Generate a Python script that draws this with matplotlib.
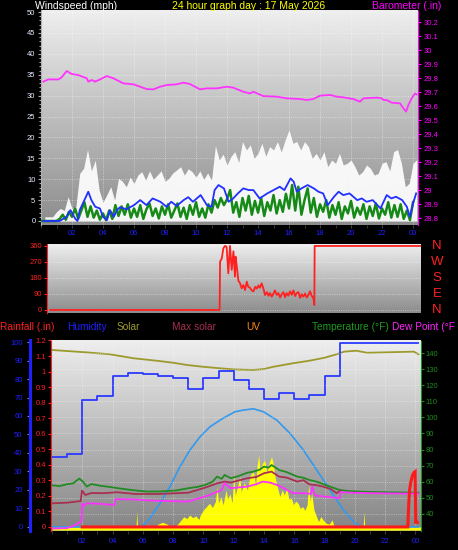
import numpy as np
import matplotlib
matplotlib.use('Agg')
import matplotlib.pyplot as plt
from matplotlib.ticker import MultipleLocator, FuncFormatter

plt.rcParams['font.family'] = ['Liberation Sans', 'DejaVu Sans']

# ---- wind / barometer (hours since midnight) ----
gust_h = np.arange(0.25, 24.26, 0.25)
gust = [1.0, 1.0, 1.0, 2.2, 3.0, 2.5, 5.8, 3.0, 3.4, 11.4, 12.6, 17.1,
        12.0, 14.5, 7.4, 4.5, 6.3, 8.2, 5.0, 10.2, 9.5, 8.2, 10.5, 9.0,
        11.0, 11.8, 9.8, 12.0, 10.0, 11.0, 12.0, 9.5, 10.2, 11.5, 12.2, 13.0,
        11.0, 12.5, 11.8, 10.5, 12.0, 10.0, 11.5, 9.8, 18.0, 14.6, 16.0, 13.4,
        15.4, 16.6, 14.0, 19.0, 17.0, 18.2, 15.0, 16.2, 18.6, 15.5, 17.8, 17.0,
        19.0, 16.5, 19.4, 21.8, 18.6, 19.0, 17.0, 19.0, 17.8, 15.0, 16.2, 14.6,
        16.6, 13.0, 14.6, 13.8, 16.2, 13.4, 13.8, 14.6, 13.0, 11.0, 11.8, 13.4,
        12.6, 11.0, 11.4, 13.8, 14.2, 12.0, 16.6, 17.1, 13.8, 8.2, 9.0, 13.8,
        14.7]

speed_h = np.arange(0, 24.01, 0.2)
speed = [0, 0, 0, 0, 0, 0,
         0.5, 1.5, 0.3, 2.2, 1.0, 3.0, 0.5, 2.5, 4.5, 1.0,
         3.5, 0.8, 2.5, 0.3, 1.8, 0.2, 2.5, 0.5, 3.8, 1.2,
         3.5, 1.5, 4.0, 0.8, 3.0, 1.0, 3.8, 0.5, 2.8, 4.2,
         1.2, 3.0, 0.6, 3.5, 1.5, 4.0, 0.8, 2.5, 4.2, 1.0,
         3.2, 0.5, 3.8, 1.5, 4.5, 1.0, 3.0, 0.8, 4.0, 2.0,
         5.0, 3.2, 5.5, 3.8, 5.2, 7.4, 2.0, 4.5, 1.0, 5.5,
         2.5, 6.0, 1.5, 4.8, 2.0, 5.5, 1.2, 4.5, 2.5, 6.2,
         1.8, 5.0, 2.2, 6.5, 3.0, 8.6, 2.5, 8.2, 1.5, 5.0,
         7.8, 2.0, 5.5, 1.0, 4.0, 2.2, 5.0, 0.8, 3.8, 1.5,
         4.5, 0.5, 3.5, 1.8, 4.8, 0.8, 3.2, 1.5, 4.0, 0.5,
         3.5, 1.2, 4.2, 0.6, 3.0, 1.5, 4.5, 0.8, 3.8, 1.0,
         4.0, 0.5, 2.5, 0.2, 4.5]

avg_h = [0.15, 1.2, 1.65, 1.9, 2.2, 2.35, 2.5, 2.85, 3.05, 3.25,
         3.5, 3.8, 4.0, 4.25, 4.45, 4.7, 4.9, 5.1, 5.5, 6.0,
         6.4, 6.8, 7.2, 7.7, 8.1, 8.4, 8.75, 9.2, 9.5, 9.8,
         10.3, 10.7, 11.0, 11.2, 11.45, 11.8, 12.1, 12.4, 12.7, 13.05,
         13.4, 13.7, 14.1, 14.6, 15.0, 15.4, 15.7, 16.1, 16.3, 16.5,
         16.8, 17.2, 17.6, 17.9, 18.2, 18.5, 18.9, 19.2, 19.5, 19.9,
         20.4, 20.7, 21.0, 21.4, 21.9, 22.3, 22.6, 22.9, 23.3, 23.6,
         23.8, 24.0, 24.2]
avg = [0, 0, 1.0, 2.6, 0.6, 0, 2.6, 5.4, 7.0, 5.0,
       3.4, 3.0, 1.0, 0.2, 2.6, 1.0, 2.6, 3.3, 2.8, 3.8,
       5.0, 3.8, 5.4, 4.6, 3.4, 4.6, 3.6, 5.0, 5.7, 4.6,
       6.2, 3.8, 3.4, 7.4, 8.6, 7.8, 4.6, 5.4, 6.6, 7.8,
       7.4, 7.4, 5.4, 6.6, 7.4, 8.2, 7.4, 10.2, 9.4, 7.0,
       7.8, 8.6, 7.8, 7.0, 6.6, 3.8, 5.8, 7.0, 6.2, 6.6,
       5.0, 5.4, 4.6, 5.0, 3.0, 6.2, 5.4, 5.8, 5.0, 3.4,
       1.0, 4.2, 6.6]

baro_h = [0.15, 0.47, 1.12, 1.33, 1.66, 1.98, 2.41, 2.95, 3.05, 3.27,
          3.48, 3.81, 4.24, 4.67, 5.31, 5.96, 6.82, 7.25, 7.68, 8.11,
          8.75, 9.18, 9.61, 10.26, 10.69, 11.33, 11.98, 12.41, 13.05, 13.48,
          13.7, 14.34, 15.2, 15.85, 16.71, 17.14, 17.57, 18.0, 18.65, 19.08,
          19.5, 20.15, 20.58, 20.8, 21.66, 21.98, 22.09, 22.3, 22.62, 23.16,
          23.38, 23.55, 23.7, 23.91, 24.13, 24.24]
baro = [29.774, 29.790, 29.790, 29.805, 29.85, 29.829, 29.821, 29.798, 29.774, 29.786,
        29.774, 29.790, 29.814, 29.798, 29.762, 29.755, 29.721, 29.719, 29.738, 29.75,
        29.755, 29.767, 29.757, 29.719, 29.726, 29.726, 29.738, 29.731, 29.702, 29.69,
        29.702, 29.671, 29.667, 29.655, 29.65, 29.643, 29.65, 29.674, 29.679, 29.667,
        29.662, 29.65, 29.631, 29.655, 29.66, 29.655, 29.643, 29.643, 29.624, 29.619,
        29.583, 29.56, 29.607, 29.655, 29.69, 29.683]

# ---- wind direction ----
dir_h = [0.26, 11.2, 11.23, 11.34, 11.44, 11.55, 11.65, 11.76, 11.87, 11.98,
         12.09, 12.19, 12.23, 12.3, 12.41, 12.52, 12.62, 12.73, 12.84, 12.95,
         13.05, 13.16, 13.27, 13.38, 13.5, 13.6, 13.7, 13.8, 13.91, 14.02,
         14.13, 14.25, 14.35, 14.45, 14.56, 14.66, 14.77, 14.88, 14.99, 15.1,
         15.2, 15.31, 15.42, 15.52, 15.63, 15.74, 15.85, 15.96, 16.07, 16.17,
         16.28, 16.39, 16.49, 16.6, 16.71, 16.82, 16.93, 17.03, 17.14, 17.25,
         17.31, 17.33, 24.2]
wdir = [0, 0, 272, 290, 347, 360, 355, 206, 360, 225,
        330, 187, 300, 250, 165, 150, 122, 140, 112, 159,
        130, 125, 110, 105, 130, 120, 138, 125, 150, 122,
        84, 100, 80, 95, 75, 90, 110, 85, 95, 70,
        88, 100, 72, 95, 80, 105, 85, 110, 78, 95,
        100, 68, 88, 75, 92, 70, 85, 105, 80, 66,
        28, 360, 360]
compass = ['N', 'E', 'S', 'W', 'N']

# ---- lower panel ----
hum_h = [0, 1, 2, 3, 4, 5, 6, 7, 8, 9, 10, 11, 12, 13, 14, 15, 16, 17, 18, 19, 24.2]
hum = [38.0, 39.5, 68.6, 70.8, 81.6, 83.4, 82.9, 81.8, 80.7, 74.6, 80.7,
       84.5, 79.5, 74.6, 69.2, 72.6, 69.2, 71.4, 81.6, 99.6, 99.6]

olive_h = [0, 2.3, 3.8, 5.4, 6.9, 8.0, 8.9, 10.0, 11.1, 12.0, 13.3, 14.0,
           14.6, 15.9, 17.0, 18.0, 18.8, 19.3, 20.1, 20.8, 21.9, 23.9, 24.2]
olive = [95.7, 94.4, 93.4, 91.2, 89.9, 88.8, 87.6, 86.6, 85.8, 85.2, 84.9, 85.4,
         86.6, 88.5, 89.9, 91.5, 93.4, 94.8, 95.3, 94.2, 94.4, 94.8, 93.4]

uv_h = [0, 5.92, 6.47, 7.13, 7.79, 8.45, 9.11, 9.78, 10.44, 11.3, 12.09, 12.64,
        13.3, 13.96, 14.84, 15.72, 16.6, 17.48, 18.36, 19.24, 20.01, 20.45, 24.2]
uv = [0, 0, 4.7, 12.8, 21.8, 32.6, 41.6, 48.8, 54.2, 58.8, 62.3, 63.2,
      63.9, 62.3, 57.8, 50.6, 41.6, 30.8, 20.0, 9.2, 2.0, 0, 0]

solar_h = [0, 5.55, 5.6, 5.65, 6.8, 7.0, 7.3, 7.6, 7.8, 8.1,
           8.3, 8.5, 8.7, 8.9, 9.1, 9.3, 9.5, 9.7, 9.8, 10.0,
           10.2, 10.4, 10.6, 10.8, 10.9, 11.0, 11.15, 11.3, 11.5, 11.6,
           11.75, 11.9, 12.0, 12.1, 12.25, 12.4, 12.5, 12.7, 12.9, 13.1,
           13.3, 13.45, 13.55, 13.65, 13.75, 13.9, 14.05, 14.2, 14.35, 14.5,
           14.6, 14.75, 14.9, 15.05, 15.2, 15.35, 15.5, 15.65, 15.8, 15.95,
           16.1, 16.25, 16.4, 16.55, 16.7, 16.85, 16.95, 17.05, 17.15, 17.3,
           17.45, 17.6, 17.75, 17.9, 18.1, 18.3, 18.5, 18.6, 18.8, 20.55,
           20.6, 20.65, 24.4]
solar = [0, 0, 8.3, 0, 0, 1.5, 2.5, 1.5, 0, 0,
         1.5, 3.5, 5.5, 4.5, 6.4, 5.0, 6.0, 4.0, 6.5, 9.2,
         11.0, 12.8, 10.5, 14.0, 21.8, 13.0, 16.4, 12.0, 20.0, 15.0,
         18.0, 13.0, 29.0, 17.0, 21.8, 27.2, 19.0, 24.0, 20.0, 28.0,
         29.9, 22.0, 33.5, 38.9, 30.0, 34.4, 36.0, 29.0, 35.0, 38.0,
         34.4, 26.0, 21.0, 16.4, 20.0, 17.3, 21.0, 15.0, 15.5, 12.0,
         14.0, 12.8, 10.0, 11.0, 9.0, 12.0, 22.7, 14.0, 18.2, 9.2,
         6.0, 2.9, 5.6, 3.8, 2.0, 1.5, 3.8, 1.0, 0, 0,
         8.3, 0, 0]

temp_h = [0, 0.5, 1.0, 1.4, 1.8, 2.0, 2.3, 2.6, 3.2, 3.8,
          4.5, 5.6, 6.3, 7.2, 8.2, 9.0, 9.6, 10.1, 10.6, 10.9,
          11.2, 11.4, 11.8, 12.3, 12.9, 13.3, 13.7, 14.0, 14.3, 14.5,
          14.8, 15.0, 15.5, 16.2, 16.6, 17.0, 17.5, 17.9, 18.5, 19.0,
          19.6, 20.5, 21.5, 22.5, 23.3, 24.2]
temp = [57.8, 57.3, 58.5, 59.0, 62.0, 60.5, 57.0, 58.6, 57.5, 56.8,
        55.8, 54.5, 53.9, 54.0, 54.6, 56.0, 56.8, 58.0, 60.0, 63.2,
        61.8, 64.2, 62.2, 63.5, 65.6, 66.3, 67.5, 69.4, 68.8, 70.4,
        68.6, 67.3, 66.0, 63.2, 62.5, 61.1, 60.0, 58.6, 56.5, 54.9,
        54.2, 53.8, 53.6, 53.4, 53.3, 53.2]

maxsol_h = [0, 1.0, 1.9, 1.98, 2.2, 2.6, 3.4, 4.3, 5.5, 7.0,
            9.0, 10.1, 10.9, 11.4, 11.8, 12.9, 13.5, 14.0, 14.5, 15.0,
            15.5, 16.2, 16.6, 17.0, 17.5, 17.9, 18.4, 18.8, 19.05]
maxsol = [46.6, 47.0, 48.0, 54.5, 51.8, 53.0, 52.9, 53.5, 52.4, 52.4,
          53.2, 56.3, 59.0, 60.1, 59.5, 62.2, 63.0, 65.3, 66.3, 63.2,
          62.6, 60.1, 61.0, 58.4, 57.8, 57.0, 55.5, 52.9, 54.5]

dew_h = [0, 1.0, 1.4, 1.8, 1.95, 2.0, 2.1, 2.3, 3.2, 4.1,
         4.2, 5.5, 6.5, 9.0, 10.1, 10.6, 11.2, 11.4, 11.8, 12.9,
         13.5, 13.9, 14.4, 15.0, 15.5, 15.9, 16.6, 17.1, 17.2, 17.35,
         18.0, 19.0, 19.05, 20.5, 22.0, 24.2]
dew = [30.9, 31.2, 32.5, 34.6, 35.5, 46.6, 45.0, 46.6, 46.3, 45.5,
       49.2, 49.0, 48.3, 47.7, 50.8, 52.5, 54.9, 59.1, 56.0, 57.0,
       58.5, 60.1, 59.5, 57.5, 55.0, 52.9, 52.9, 52.5, 57.0, 51.5,
       50.8, 49.8, 53.5, 53.0, 52.8, 52.6]

rain_h = [2.0, 23.5, 23.56, 23.62, 23.7, 23.8, 23.9, 23.98, 24.02, 24.12]
rain = [0, 0, 0.15, 0.24, 0.29, 0.33, 0.35, 0.356, 0.03, 0.03]

legend_names = ['Rainfall (.in)', 'Humidity', 'Solar', 'Max solar', 'UV',
                'Temperature (°F)', 'Dew Point (°F']
legend_colors = ['#ff2020', '#2020ff', '#9c9a2c', '#a83050', '#ff8c1a',
                 '#1e9a1e', '#ff22ff']
legend_x = [0, 67, 117, 172, 246, 312, 392]

W, H = 458, 550
fig = plt.figure(figsize=(W / 100, H / 100), dpi=100, facecolor='black')


def box(x0, y0, x1, y1):
    return [x0 / W, 1 - y1 / H, (x1 - x0) / W, (y1 - y0) / H]


def shade(ax, top, bottom):
    g = np.linspace(top, bottom, 256).reshape(-1, 1)
    ax.imshow(g, cmap='gray', vmin=0, vmax=255, extent=[0, 1, 0, 1],
              transform=ax.transAxes, aspect='auto', zorder=0,
              interpolation='bilinear')


def hide_spines(ax, keep=()):
    for k, s in ax.spines.items():
        s.set_visible(k in keep)


hour_fmt = FuncFormatter(lambda v, p: f"{int(round(v)) % 24:02d}")
num_fmt = FuncFormatter(lambda v, p: f"{v:g}")

# ---------- panel 1: wind + barometer ----------
ax1 = fig.add_axes(box(41, 10, 418, 225))
shade(ax1, 238, 140)
ax1.fill_between(gust_h, 0, gust, color='white', alpha=0.92, lw=0, zorder=2)
ax1.plot(speed_h, speed, color='#168a16', lw=1.8, zorder=3)
ax1.plot(avg_h, avg, color='#2030ff', lw=1.3, zorder=4)
ax1.set_xlim(0, 24.32)
ax1.set_ylim(-0.96, 50.5)
ax1.set_yticks(range(0, 51, 5))
ax1.yaxis.set_minor_locator(MultipleLocator(1))
ax1.set_xticks(range(2, 25, 2))
ax1.xaxis.set_major_formatter(hour_fmt)
ax1.xaxis.set_minor_locator(MultipleLocator(1))
ax1.tick_params(axis='y', which='both', colors='#a8a8a8', labelcolor='#e4ecff',
                labelsize=5.5, length=2.5, width=0.8, pad=1.5)
ax1.tick_params(axis='y', which='minor', length=1.2)
ax1.tick_params(axis='x', which='both', colors='#404040', labelcolor='#2020ff',
                labelsize=5.5, length=2, pad=1.5)
ax1.grid(which='major', color='white', ls=':', lw=0.6, alpha=0.55)
hide_spines(ax1, ('left',))
ax1.spines['left'].set_color('#b0b0b0')

ax1b = ax1.twinx()
ax1b.plot(baro_h, baro, color='#ff33ff', lw=1.3)
ax1b.set_ylim(28.75, 30.286)
ax1b.set_yticks(np.round(np.arange(28.8, 30.21, 0.1), 1))
ax1b.yaxis.set_major_formatter(num_fmt)
ax1b.tick_params(axis='y', colors='#ff00ff', labelsize=5.5, length=2.5, pad=1.5)
hide_spines(ax1b, ('right',))
ax1b.spines['right'].set_color('#ff00ff')
ax1b.spines['right'].set_linestyle((0, (1, 1)))

# ---------- panel 2: wind direction ----------
ax2 = fig.add_axes(box(47, 244, 421, 313))
shade(ax2, 238, 140)
ax2.plot(dir_h, wdir, color='#ff2020', lw=1.3, zorder=3)
ax2.set_xlim(0.065, 24.19)
ax2.set_ylim(-17, 371)
ax2.set_yticks([0, 90, 180, 270, 360])
ax2.set_xticks([])
ax2.tick_params(axis='y', colors='#ff2020', labelsize=5.5, length=2, pad=1.5)
ax2.grid(axis='y', color='white', ls=':', lw=0.6, alpha=0.55)
hide_spines(ax2, ('left',))
ax2.spines['left'].set_color('#ff2020')
ax2.spines['left'].set_linestyle((0, (1, 1)))
for v, s in zip([0, 90, 180, 270, 360], compass):
    ax2.text(1.043, v, s, transform=ax2.get_yaxis_transform(), ha='center',
             va='center', color='#ff2020', fontsize=9.5)

# ---------- panel 3: rain / humidity / solar / temperature ----------
ax3 = fig.add_axes(box(51, 340, 421, 531))
shade(ax3, 238, 132)
ax3.fill_between(solar_h, -1.7, solar, color='#ffff00', lw=0, zorder=2)
ax3.plot(olive_h, olive, color='#9c9a2c', lw=1.3, zorder=3)
ax3.plot(uv_h, uv, color='#3399ee', lw=1.2, zorder=3)
ax3.step(hum_h, hum, where='post', color='#2a3aff', lw=1.3, zorder=4)
ax3.set_xlim(-0.066, 24.37)
ax3.set_ylim(-2.2, 101.1)
ax3.set_yticks(range(0, 101, 10))
ax3.set_xticks(range(2, 25, 2))
ax3.xaxis.set_major_formatter(hour_fmt)
ax3.xaxis.set_minor_locator(MultipleLocator(1))
ax3.tick_params(axis='x', which='both', colors='#404040', labelcolor='#2020ff',
                labelsize=5.5, length=2.5, pad=2.5)
ax3.tick_params(axis='y', colors='#909090', labelcolor='#2020ff',
                labelsize=5.5, length=2.5, pad=3)
ax3.grid(axis='x', color='white', ls=':', lw=0.6, alpha=0.55)
hide_spines(ax3, ('left',))
ax3.spines['left'].set_position(('outward', 15))
ax3.spines['left'].set_color('#2020ff')
ax3.spines['left'].set_linewidth(2.2)

ax3t = ax3.twinx()
ax3t.plot(temp_h, temp, color='#228b22', lw=1.3)
ax3t.plot(maxsol_h, maxsol, color='#a83050', lw=1.3)
ax3t.plot(dew_h, dew, color='#ff33ff', lw=1.3)
ax3t.set_ylim(29.4, 148.1)
ax3t.set_yticks(range(40, 141, 10))
ax3t.tick_params(axis='y', colors='#1e8c1e', labelsize=5.5, length=2, pad=1.5)
ax3t.grid(axis='y', color='white', ls=':', lw=0.6, alpha=0.5)
hide_spines(ax3t, ('right',))
ax3t.spines['right'].set_color('#1e8c1e')
ax3t.spines['right'].set_linestyle((0, (1, 1)))

ax3r = ax3.twinx()
ax3r.plot(rain_h, rain, color='#ff1a1a', lw=2.2, solid_joinstyle='miter')
ax3r.set_ylim(-0.026, 1.203)
ax3r.set_yticks(np.round(np.arange(0, 1.21, 0.1), 1))
ax3r.yaxis.set_major_formatter(num_fmt)
ax3r.yaxis.tick_left()
ax3r.tick_params(axis='y', colors='#ff2020', labelsize=5.5, length=2, pad=1.5)
hide_spines(ax3r, ('left',))
ax3r.spines['left'].set_color('#ff2020')
ax3r.spines['left'].set_linestyle((0, (1, 1)))

# ---------- header and legend row ----------
fig.text(35 / W, 1 - 6 / H, 'Windspeed (mph)', color='white', fontsize=7.5,
         ha='left', va='center')
fig.text(172 / W, 1 - 6 / H, '24 hour graph day : 17 May 2026', color='#ffff00',
         fontsize=7.5, ha='left', va='center')
fig.text(372 / W, 1 - 6 / H, 'Barometer (.in)', color='#ff00ff', fontsize=7.5,
         ha='left', va='center')
for name, col, x in zip(legend_names, legend_colors, legend_x):
    fig.text(x / W, 1 - 327 / H, name, color=col, fontsize=7.3, ha='left',
             va='center')

fig.savefig('out.png', dpi=100, facecolor='black')
